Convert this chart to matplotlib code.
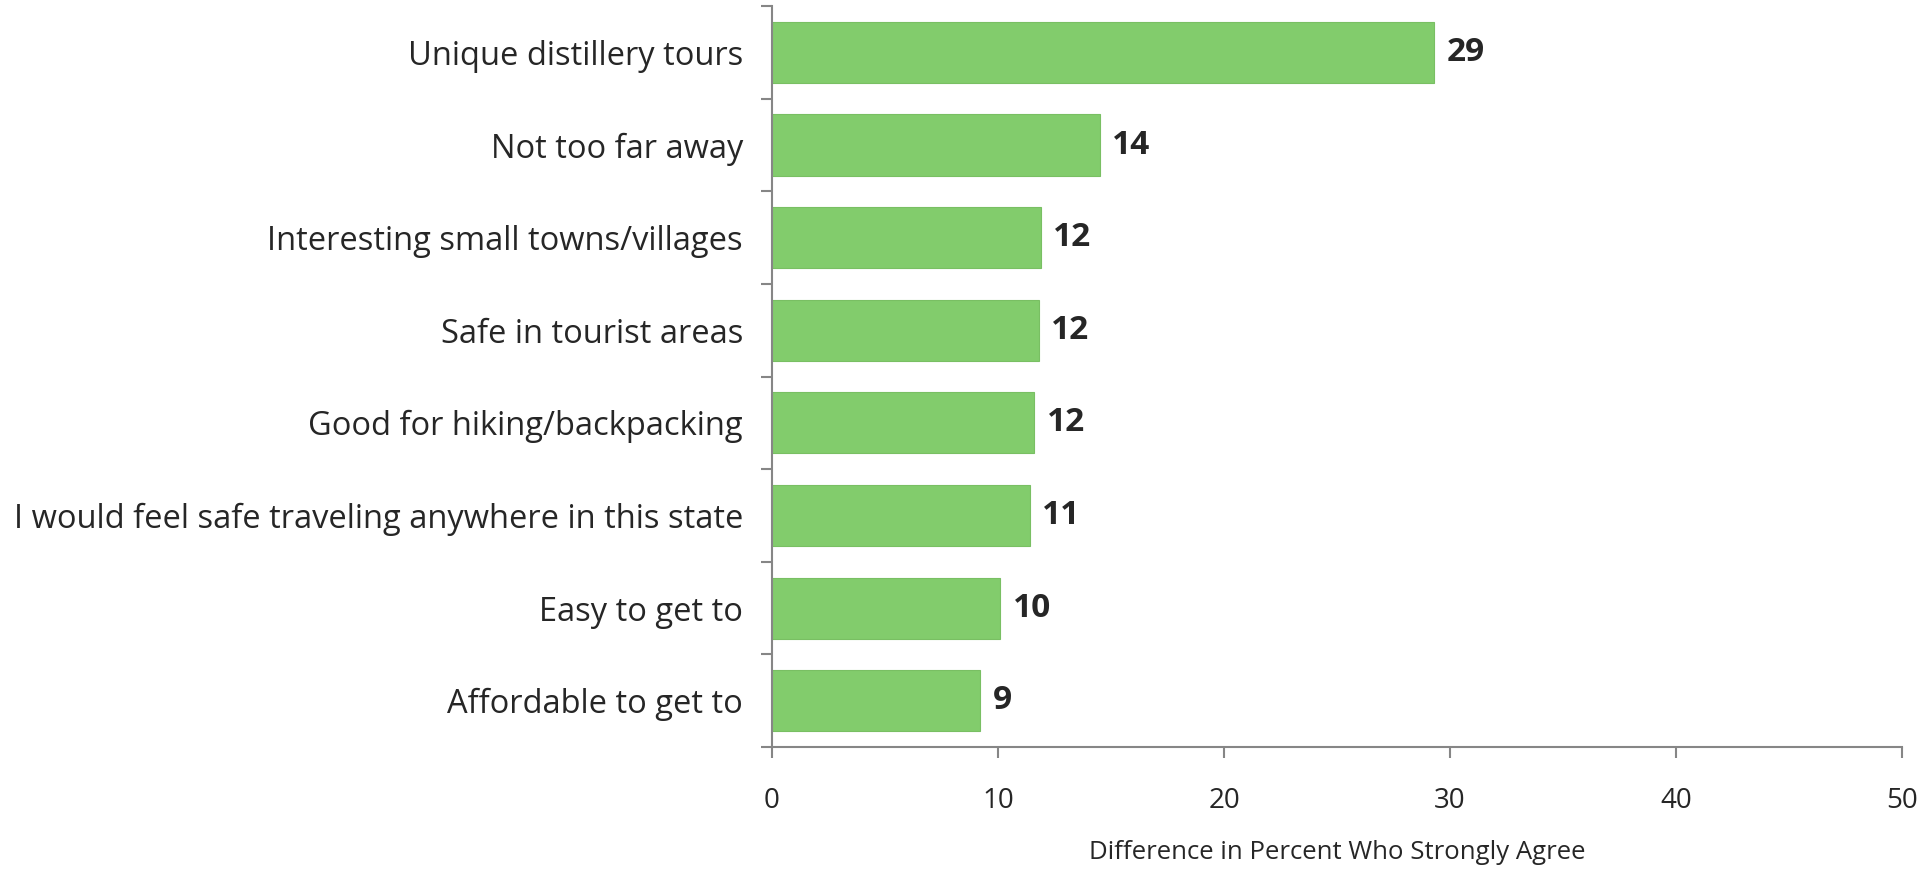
import matplotlib.pyplot as plt
import numpy as np

# categories top to bottom
categories = ["Unique distillery tours", "Not too far away", "Interesting small towns/villages",
              "Safe in tourist areas", "Good for hiking/backpacking",
              "I would feel safe traveling anywhere in this state", "Easy to get to",
              "Affordable to get to"]
values = [29.3, 14.5, 11.9, 11.8, 11.6, 11.4, 10.1, 9.2]
labels = ["29", "14", "12", "12", "12", "11", "10", "9"]
xticks = [0, 10, 20, 30, 40, 50]

plt.rcParams['font.family'] = ['Open Sans', 'DejaVu Sans']
text_col = '#262626'
axis_col = '#868686'

fig = plt.figure(figsize=(19.21, 8.72), dpi=100)
ax = fig.add_axes([0.4019, 0.1433, 0.5882, 0.8497])

y = np.arange(len(categories))[::-1]
ax.barh(y, values, height=0.66, color='#82CC6C', edgecolor='#79BF63', linewidth=0.8)

for yi, v, lab in zip(y, values, labels):
    ax.text(v + 0.55, yi, lab, va='center', ha='left', fontsize=24,
            fontweight='bold', color=text_col)

ax.set_xlim(0, 50)
ax.set_ylim(-0.5, len(categories) - 0.5)
ax.set_xticks(xticks)
ax.set_xticklabels([str(t) for t in xticks], fontsize=20, color=text_col)
ax.set_yticks(y)
ax.set_yticklabels(categories, fontsize=23.5, color=text_col)
ax.tick_params(axis='y', length=0, pad=21)
ax.set_yticks(np.arange(-0.5, len(categories)), minor=True)
ax.tick_params(axis='y', which='minor', length=8, color=axis_col, width=1.5)
ax.tick_params(axis='x', length=8, color=axis_col, width=1.5, pad=21)

for s in ['top', 'right']:
    ax.spines[s].set_visible(False)
for s in ['left', 'bottom']:
    ax.spines[s].set_color(axis_col)
    ax.spines[s].set_linewidth(1.5)

fig.text(0.4019 + 0.5882 / 2, 0.022, "Difference in Percent Who Strongly Agree",
         ha='center', va='center', fontsize=18.5, color=text_col)

fig.savefig("out.png", dpi=100)
